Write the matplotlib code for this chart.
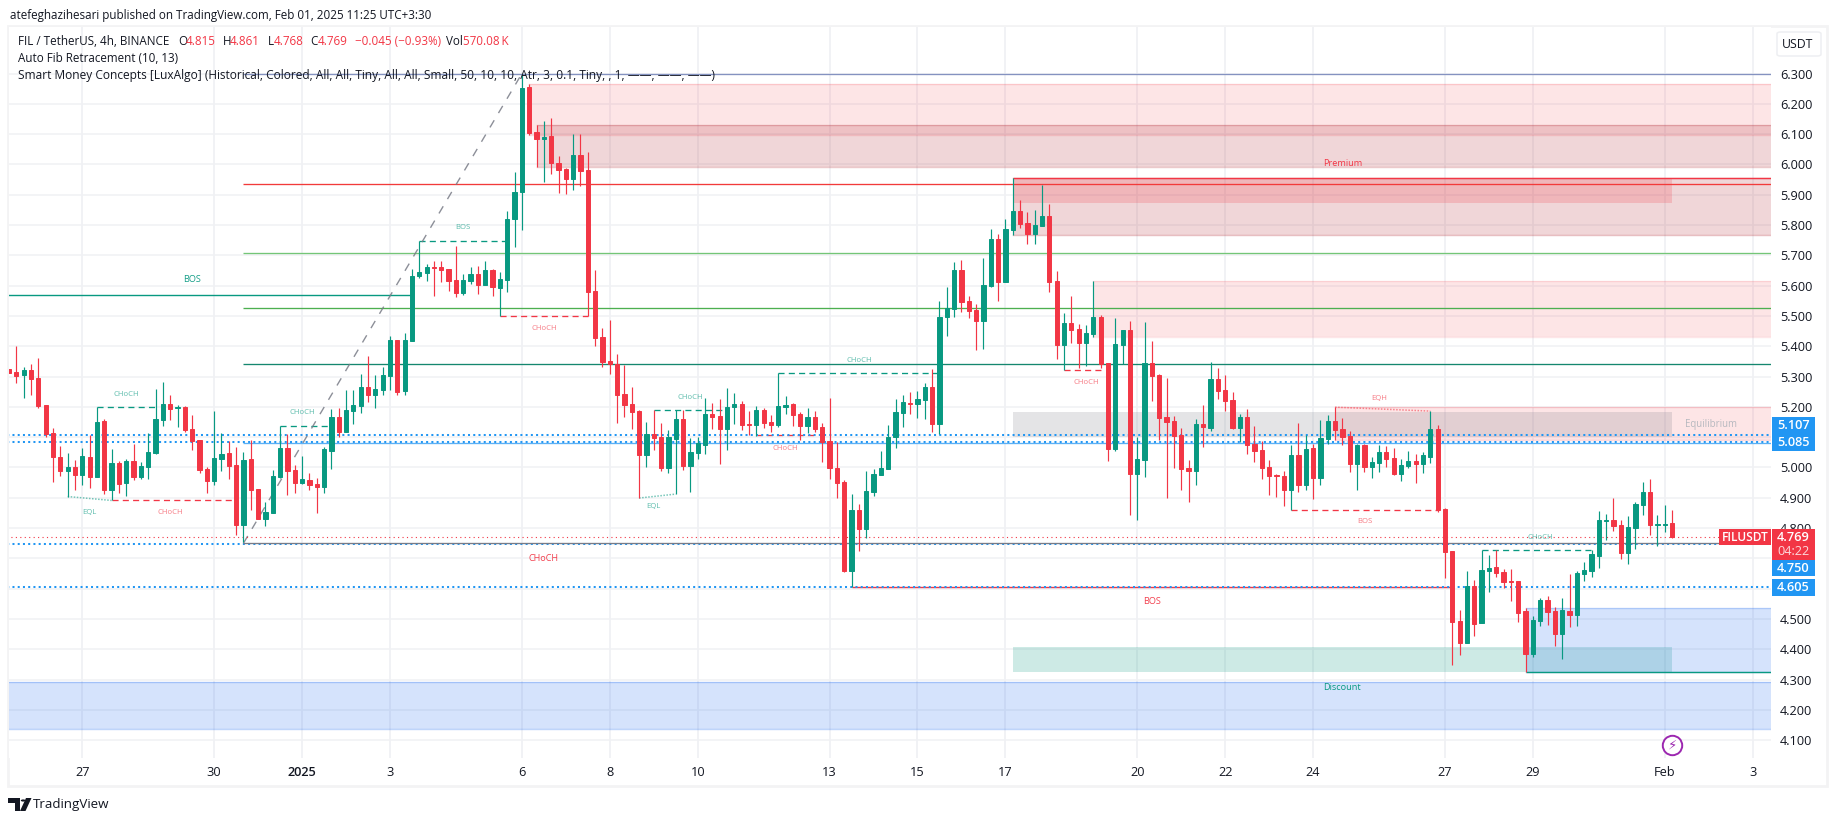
import matplotlib
matplotlib.use("Agg")
import matplotlib.pyplot as plt
from matplotlib.patches import Rectangle, Circle, FancyBboxPatch, Polygon
from matplotlib.lines import Line2D
import numpy as np

# ---------- data ----------
opens = [5.326,5.314,5.304,5.321,5.295,5.205,5.113,5.034,4.988,5.001,4.974,5.034,4.968,5.153,4.925,5.014,4.948,5.021,4.968,5.001,
5.047,5.156,5.209,5.197,5.199,5.126,5.090,4.994,4.955,5.027,5.047,5.007,4.809,5.027,4.928,4.829,4.849,4.968,5.064,4.991,
4.948,4.958,4.945,4.935,5.054,5.166,5.116,5.186,5.202,5.265,5.238,5.255,5.301,5.420,5.252,5.417,5.631,5.641,5.661,5.661,
5.654,5.618,5.575,5.615,5.638,5.601,5.651,5.592,5.618,5.819,5.908,6.255,6.106,6.084,6.093,6.004,5.984,5.951,6.030,5.981,
5.582,5.430,5.351,5.342,5.242,5.209,5.186,5.040,5.110,5.100,4.998,5.093,5.159,5.004,5.047,5.073,5.176,5.169,5.126,5.199,
5.209,5.143,5.139,5.189,5.149,5.139,5.199,5.209,5.176,5.136,5.166,5.133,5.087,4.998,4.951,4.658,4.859,4.796,4.918,4.974,
4.994,5.100,5.179,5.212,5.209,5.222,5.265,5.143,5.496,5.523,5.651,5.549,5.519,5.483,5.598,5.753,5.611,5.783,5.846,5.806,
5.770,5.796,5.829,5.615,5.403,5.476,5.456,5.410,5.440,5.496,5.344,5.060,5.403,5.453,4.978,5.024,5.344,5.304,5.166,5.153,
5.106,4.997,4.988,5.143,5.130,5.291,5.255,5.222,5.130,5.166,5.077,5.057,5.001,4.974,4.971,4.925,5.040,4.941,5.064,4.965,
5.093,5.153,5.126,5.103,5.011,5.073,5.001,5.014,5.050,5.031,4.978,5.004,5.021,5.011,5.034,5.126,4.862,4.724,4.493,4.420,
4.608,4.486,4.658,4.671,4.654,4.625,4.625,4.526,4.384,4.493,4.562,4.526,4.450,4.526,4.512,4.648,4.658,4.707,4.823,4.826,
4.809,4.717,4.800,4.875,4.918,4.809,4.809,4.815]
highs = [5.326,5.400,5.331,5.341,5.361,5.205,5.130,5.070,5.047,5.024,5.064,5.106,5.201,5.159,5.060,5.021,5.027,5.077,5.017,5.113,
5.258,5.281,5.238,5.205,5.202,5.172,5.090,5.001,5.186,5.113,5.087,5.067,5.050,5.090,4.928,4.885,4.991,5.138,5.110,5.007,
5.037,4.981,4.965,5.067,5.192,5.196,5.255,5.255,5.308,5.367,5.304,5.331,5.433,5.420,5.443,5.654,5.749,5.671,5.681,5.681,
5.654,5.730,5.638,5.661,5.664,5.681,5.654,5.644,5.846,5.974,6.300,6.265,6.129,6.143,6.153,6.027,5.988,6.100,6.100,6.040,
5.651,5.459,5.486,5.374,5.337,5.265,5.189,5.149,5.188,5.146,5.123,5.188,5.188,5.097,5.100,5.229,5.212,5.225,5.262,5.245,
5.219,5.186,5.202,5.196,5.172,5.313,5.235,5.212,5.182,5.196,5.186,5.146,5.229,5.083,4.958,4.912,4.879,4.988,4.994,5.054,
5.139,5.225,5.238,5.248,5.252,5.278,5.324,5.549,5.595,5.677,5.684,5.565,5.539,5.691,5.786,5.770,5.819,5.955,5.882,5.842,
5.849,5.932,5.869,5.648,5.509,5.565,5.473,5.469,5.615,5.502,5.344,5.493,5.453,5.483,5.100,5.479,5.417,5.308,5.295,5.169,
5.130,5.024,5.159,5.205,5.347,5.328,5.304,5.248,5.176,5.192,5.136,5.087,5.024,4.978,4.988,5.073,5.146,5.106,5.077,5.156,
5.172,5.199,5.163,5.120,5.077,5.077,5.034,5.073,5.070,5.064,5.027,5.054,5.044,5.050,5.186,5.139,4.866,4.724,4.529,4.658,
4.628,4.726,4.710,4.726,4.664,4.664,4.625,4.536,4.509,4.569,4.575,4.539,4.569,4.648,4.658,4.687,4.726,4.856,4.846,4.899,
4.826,4.839,4.885,4.951,4.961,4.842,4.875,4.861]
lows = [5.312,5.279,5.230,5.238,5.197,5.101,4.951,4.971,4.904,4.925,4.941,4.933,4.968,4.912,4.891,4.915,4.905,4.958,4.961,4.961,
5.044,5.136,5.156,5.133,5.116,5.057,4.981,4.915,4.941,4.988,4.961,4.776,4.753,4.859,4.829,4.806,4.849,4.965,4.908,4.915,
4.945,4.925,4.849,4.915,4.994,5.100,5.116,5.143,5.179,5.215,5.196,5.238,5.255,5.238,5.238,5.417,5.625,5.615,5.565,5.611,
5.582,5.562,5.568,5.605,5.572,5.601,5.565,5.499,5.578,5.727,5.783,6.096,5.991,5.941,5.968,5.905,5.902,5.915,5.928,5.499,
5.400,5.331,5.308,5.146,5.166,5.126,4.899,5.001,5.057,4.988,4.981,4.912,4.991,4.918,5.027,5.044,5.126,5.011,5.057,5.143,
5.123,5.106,5.103,5.130,5.116,5.133,5.176,5.136,5.090,5.113,5.116,5.017,4.961,4.899,4.654,4.605,4.724,4.767,4.905,4.974,
4.994,5.064,5.133,5.176,5.163,5.159,5.116,5.110,5.433,5.496,5.512,5.493,5.387,5.390,5.595,5.549,5.611,5.767,5.790,5.737,
5.737,5.796,5.578,5.357,5.320,5.410,5.328,5.334,5.430,5.328,5.021,5.054,5.341,4.842,4.826,4.968,5.219,5.090,4.898,4.997,
4.925,4.885,4.941,5.067,5.120,5.225,5.186,5.126,5.083,5.044,5.017,4.961,4.908,4.902,4.872,4.861,4.918,4.925,4.895,4.941,
5.077,5.090,5.073,4.984,4.925,4.984,4.965,4.984,5.001,4.974,4.955,4.998,4.948,4.981,5.014,4.852,4.635,4.347,4.380,4.420,
4.443,4.486,4.588,4.638,4.602,4.559,4.489,4.324,4.374,4.476,4.479,4.410,4.367,4.473,4.476,4.625,4.638,4.668,4.760,4.790,
4.697,4.681,4.730,4.842,4.776,4.740,4.786,4.768]
closes = [5.312,5.301,5.321,5.291,5.202,5.110,5.034,4.988,5.001,4.974,5.037,4.968,5.149,4.925,5.014,4.945,5.021,4.968,5.004,5.050,
5.159,5.209,5.192,5.199,5.123,5.087,4.991,4.955,5.031,5.044,5.004,4.809,5.024,4.925,4.829,4.852,4.971,5.064,4.988,4.948,
4.961,4.941,4.935,5.060,5.166,5.116,5.189,5.205,5.265,5.238,5.258,5.304,5.420,5.248,5.420,5.631,5.644,5.661,5.658,5.651,
5.615,5.575,5.618,5.638,5.601,5.651,5.595,5.621,5.819,5.908,6.252,6.103,6.083,6.090,6.004,5.981,5.951,6.030,5.978,5.578,
5.427,5.347,5.342,5.238,5.205,5.182,5.040,5.110,5.097,4.998,5.100,5.159,5.004,5.050,5.080,5.176,5.166,5.126,5.199,5.209,
5.139,5.139,5.189,5.146,5.139,5.202,5.205,5.172,5.136,5.166,5.126,5.083,4.998,4.948,4.658,4.859,4.796,4.922,4.978,4.998,
5.100,5.182,5.215,5.209,5.225,5.265,5.143,5.496,5.526,5.651,5.545,5.516,5.483,5.601,5.753,5.611,5.786,5.846,5.803,5.770,
5.799,5.829,5.611,5.403,5.476,5.453,5.410,5.443,5.496,5.341,5.060,5.407,5.453,4.978,5.027,5.344,5.301,5.163,5.149,5.103,
4.994,4.988,5.143,5.133,5.291,5.252,5.219,5.130,5.166,5.073,5.054,4.998,4.971,4.971,4.925,5.040,4.941,5.060,4.965,5.097,
5.153,5.123,5.100,5.011,5.073,5.001,5.017,5.050,5.027,4.978,5.007,5.021,5.011,5.040,5.126,4.859,4.720,4.489,4.420,4.608,
4.483,4.661,4.668,4.651,4.621,4.621,4.519,4.384,4.496,4.562,4.522,4.450,4.529,4.512,4.651,4.661,4.714,4.826,4.826,4.806,
4.717,4.803,4.879,4.918,4.809,4.813,4.813,4.769]

date_ticks = [10,28,40,52,70,82,94,112,124,136,154,166,178,196,208,226,238]
date_labels = ["27","30","2025","3","6","8","10","13","15","17","20","22","24","27","29","Feb","3"]
price_ticks = [4.1,4.2,4.3,4.4,4.5,4.6,4.7,4.8,4.9,5.0,5.1,5.2,5.3,5.4,5.5,5.6,5.7,5.8,5.9,6.0,6.1,6.2,6.3]
hidden_price_labels = [4.6,4.7,5.1]   # covered by the price tags in the reference

fib_start = 32
fib_end = 70
fib_levels = [6.300,5.934,5.708,5.525,5.343,5.082,4.751]
fib_colors = ["#8492c0","#f23a3a","#74c677","#4caf50","#15876f","#5bb0f5","#787b86"]
pivot_prices = [4.750,6.300]

dotted_levels = [5.107,5.085,4.748,4.605]
last_price = 4.769

# start, end, level
dashed_green = [(12,20,5.201),(37,44,5.138),(56,68,5.749),(88,98,5.188),(105,127,5.313),(201,216,4.726)]
dashed_red = [(14,31,4.891),(67,79,5.499),(102,110,5.106),(144,149,5.320),(175,195,4.861)]
dotted_green = [(8,14,4.904,4.891),(86,91,4.899,4.912)]
dotted_red = [(181,194,5.199,5.186)]
small_labels = [(16,5.241,"CHoCH","g"),(22,4.851,"CHoCH","r"),(10.9,4.851,"EQL","g"),(40,5.181,"CHoCH","g"),
                (62,5.791,"BOS","g"),(73,5.458,"CHoCH","r"),(93,5.231,"CHoCH","g"),(106,5.062,"CHoCH","r"),
                (88,4.870,"EQL","g"),(147,5.280,"CHoCH","r"),(187,5.227,"EQH","r"),(185,4.822,"BOS","r"),
                (209,4.769,"CHoCH","g"),(116,5.353,"CHoCH","g")]
# (start, end, level, colour key)
solid_struct = [(-1,55,5.568,"g"),(115,197,4.605,"r"),(207,240.6,4.324,"g"),(137,240.6,5.955,"r")]
big_labels = [(25,5.620,"BOS","g"),(73,4.700,"CHoCH","r"),(156,4.559,"BOS","r")]

RIGHT = 240.6
# (start, end, top, bottom, colour, alpha, edge alpha)
boxes = [
 (71,RIGHT,6.265,6.096,"#f23645",0.13,0.18),
 (72,RIGHT,6.129,5.991,"#b22833",0.19,0.25),
 (137,RIGHT,5.955,5.767,"#b22833",0.19,0.30),
 (148,RIGHT,5.615,5.430,"#f23645",0.13,0.12),
 (181,RIGHT,5.199,5.090,"#f23645",0.13,0.18),
 (137,227,5.955,5.872,"#f23645",0.20,0.0),
 (137,227,5.182,5.101,"#787b86",0.20,0.0),
 (137,227,4.407,4.324,"#089981",0.20,0.0),
 (207,RIGHT,4.536,4.324,"#2e74f0",0.20,0.25),
 (-1,RIGHT,4.291,4.137,"#2e74f0",0.20,0.30),
]
# (centre of the tag on the price scale, its text): tags are stacked so they do not hide each other
price_tags = [(5.138,"5.107"),(5.082,"5.085"),(4.668,"4.750"),(4.605,"4.605")]

# ---------- figure ----------
W, H = 1835, 821
GREEN, RED, BLUE = "#089981", "#f23645", "#2196f3"
FONT = ["Open Sans", "DejaVu Sans"]
plt.rcParams["font.family"] = FONT
fig = plt.figure(figsize=(W/100, H/100), dpi=100, facecolor="white")
L, R, T, B = 9, 1771, 27, 758
ax = fig.add_axes([L/W, 1-B/H, (R-L)/W, (B-T)/H])
ax.set_xlim(-0.005, 240.5)
ax.set_ylim(4.0409, 6.4538)
for s in ax.spines.values():
    s.set_visible(False)

def px(x, y):
    return x/W, 1-y/H

fig.add_artist(Rectangle(px(8, 786), 1819/W, 760/H, transform=fig.transFigure, fill=False,
                         edgecolor="#f3f3f4", lw=2, zorder=-5))

ax.set_axisbelow(True)
ax.set_yticks(price_ticks)
ax.set_yticklabels(["" if p in hidden_price_labels else f"{p:.3f}" for p in price_ticks])
ax.set_xticks(date_ticks)
ax.set_xticklabels(date_labels)
ax.yaxis.tick_right()
ax.tick_params(axis="y", length=0, pad=6.5, labelsize=9.2, labelcolor="#131722")
ax.tick_params(axis="x", length=0, pad=5.5, labelsize=9.2, labelcolor="#131722")
for t, lab in zip(ax.get_xticklabels(), date_labels):
    if lab == "2025":
        t.set_fontweight("semibold")
ax.grid(True, axis="y", color="#f0f1f4", lw=1.1)
ax.grid(True, axis="x", color="#eeeff3", lw=1.1)

# zones
for s, e, top, bot, c, a, ea in boxes:
    ax.add_patch(Rectangle((s, bot), e-s, top-bot, facecolor=c, alpha=a, edgecolor="none", zorder=1.2))
    if ea > 0:
        ax.plot([s, e], [top, top], color=c, alpha=ea, lw=1.0, zorder=1.3)
        ax.plot([s, e], [bot, bot], color=c, alpha=ea, lw=1.0, zorder=1.3)

# structure
keys = {"g": GREEN, "r": RED}
for s, e, y, k in solid_struct:
    ax.plot([s, e], [y, y], color=keys[k], lw=1.0, zorder=1.5, solid_capstyle="butt")
for s, e, y in dashed_green:
    ax.plot([s, e], [y, y], color=GREEN, lw=0.95, ls=(0, (4.6, 3.2)), zorder=1.5)
for s, e, y in dashed_red:
    ax.plot([s, e], [y, y], color=RED, lw=0.95, ls=(0, (4.6, 3.2)), zorder=1.5)
for s, e, a, b in dotted_green:
    ax.plot([s, e], [a, b], color=GREEN, alpha=.55, lw=1.1, ls=(0, (1, 1)), zorder=1.5)
for s, e, a, b in dotted_red:
    ax.plot([s, e], [a, b], color=RED, alpha=.55, lw=1.1, ls=(0, (1, 1)), zorder=1.5)

# dotted price lines
for lv in dotted_levels:
    ax.plot([-1, RIGHT], [lv, lv], color=BLUE, lw=1.45, ls=(0, (1, 1.6)), zorder=1.55, solid_capstyle="butt")
ax.plot([-1, RIGHT], [last_price, last_price], color=RED, lw=0.8, ls=(0, (1, 3)), zorder=1.7)

# fib
for lv, c in zip(fib_levels, fib_colors):
    ax.plot([fib_start, RIGHT], [lv, lv], color=c, lw=0.95, zorder=1.6, solid_capstyle="butt")
ax.plot([fib_start, fib_end], pivot_prices, color="#787b86", lw=1.0, ls=(0, (6, 6)), alpha=.85, zorder=1.6)

# candles
idx = np.arange(len(opens))
op, hi, lo, cl = map(np.array, (opens, highs, lows, closes))
up = cl >= op
cols = np.where(up, GREEN, RED)
ax.vlines(idx, lo, hi, colors=cols, lw=0.85, zorder=3)
ax.bar(idx, np.abs(cl-op), bottom=np.minimum(op, cl), width=0.58, color=cols, edgecolor=cols, lw=0.7, zorder=3.1)

# labels inside chart
for x, y, t, k in small_labels:
    ax.text(x, y, t, color=keys[k], alpha=.65, fontsize=5.6, ha="center", va="center", zorder=4)
for x, y, t, k in big_labels:
    ax.text(x, y, t, color=keys[k], alpha=.95, fontsize=6.6, ha="center", va="center", zorder=4)
ax.text(182, 6.004, "Premium", color=RED, fontsize=6.6, ha="center", va="center", zorder=4)
ax.text(182, 4.275, "Discount", color=GREEN, fontsize=6.6, ha="center", va="center", zorder=4)
ax.text(228.8, 5.141, "Equilibrium", color="#b6b8bf", fontsize=6.9, ha="left", va="center", zorder=4)

# price tags
tr = ax.get_yaxis_transform()
fx = lambda x: (x-L)/(R-L)
tag_h = 0.0555
for y, t in price_tags:
    ax.add_patch(Rectangle((fx(1772), y-tag_h/2), 43/(R-L), tag_h, transform=tr, facecolor=BLUE,
                           edgecolor="none", clip_on=False, zorder=8))
    ax.text(fx(1793.5), y, t, transform=tr, color="white", fontsize=9.2, fontweight="semibold", ha="center",
            va="center", clip_on=False, zorder=9)
ax.add_patch(Rectangle((fx(1772), last_price-0.073), 43/(R-L), 0.100, transform=tr, facecolor=RED,
                       edgecolor="none", clip_on=False, zorder=8.5))
ax.text(fx(1793.5), last_price, "4.769", transform=tr, color="white", fontsize=9.2, fontweight="semibold",
        ha="center", va="center", clip_on=False, zorder=9)
ax.text(fx(1793.5), last_price-0.047, "04:22", transform=tr, color="#fcd9dc", fontsize=9.2,
        ha="center", va="center", clip_on=False, zorder=9)
ax.add_patch(Rectangle((fx(1719), last_price-0.0265), 52/(R-L), 0.0555, transform=tr, facecolor=RED,
                       edgecolor="none", clip_on=False, zorder=8))
ax.text(fx(1745), last_price, "FILUSDT", transform=tr, color="white", fontsize=8.6, fontweight="semibold",
        ha="center", va="center", clip_on=False, zorder=9)

# header texts
def T_(x, y, s, c="#131722", fs=8.35, **kw):
    fig.text(*px(x, y), s, color=c, fontsize=fs, ha=kw.pop("ha", "left"), va="center", zorder=20, **kw)

T_(10, 15, "atefeghazihesari published on TradingView.com, Feb 01, 2025 11:25 UTC+3:30")
T_(18, 41.7, "FIL / TetherUS, 4h, BINANCE")
for x, s, c in [(178, "O", "#131722"), (186, "4.815", RED), (222.5, "H", "#131722"), (230, "4.861", RED),
                (267.6, "L", "#131722"), (273.5, "4.768", RED), (310, "C", "#131722"), (318, "4.769", RED),
                (354.5, "\u22120.045 (\u22120.93%)", RED), (446, "Vol", "#131722"), (462.5, "570.08\u2009K", RED)]:
    T_(x, 41.7, s, c)
T_(18, 59, "Auto Fib Retracement (10, 13)")
T_(18, 76, "Smart Money Concepts [LuxAlgo] (Historical, Colored, All, All, Tiny, All, All, Small, 50, 10, 10, Atr, 3, 0.1, Tiny, , 1, \u2014\u2014, \u2014\u2014, \u2014\u2014)", fs=8.55)

# USDT button
fig.add_artist(FancyBboxPatch(px(1777, 56), 44/W, 24/H, boxstyle="round,pad=0,rounding_size=0.002",
                              transform=fig.transFigure, facecolor="white", edgecolor="#eeeff2", lw=1.1, zorder=10))
T_(1798, 44.5, "USDT", fs=8.8, ha="center")

# lightning badge
fig.add_artist(Line2D([1672.3/W], [1-745.3/H], marker="o", ms=14, mfc="white", mec="#9c27b0", mew=1.4,
                      transform=fig.transFigure, zorder=12))
T_(1672.3, 745.3, "\u26a1", "#9c27b0", fs=9.5, ha="center", family="DejaVu Sans")

# TradingView logo
fig.add_artist(Polygon([px(8, 798), px(20, 798), px(20, 811), px(15, 811), px(15, 803), px(8, 803)],
                       closed=True, transform=fig.transFigure, facecolor="#131722", edgecolor="none", zorder=12))
fig.add_artist(Circle(px(23.2, 800.5), 2.4/W, transform=fig.transFigure, facecolor="#131722", edgecolor="none", zorder=12))
fig.add_artist(Polygon([px(26, 798), px(31.5, 798), px(25.5, 811), px(20, 811)],
                       closed=True, transform=fig.transFigure, facecolor="#131722", edgecolor="none", zorder=12))
T_(33, 804, "TradingView", fs=9.6)

fig.savefig("out.png", dpi=100)
